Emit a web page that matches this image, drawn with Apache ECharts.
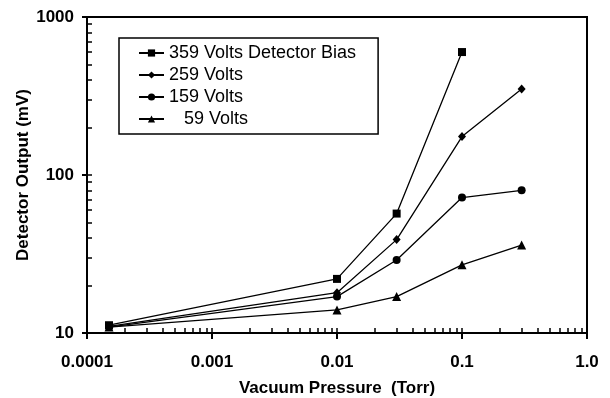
<!DOCTYPE html>
<html>
<head>
<meta charset="utf-8">
<script src="https://cdn.jsdelivr.net/npm/echarts@6/dist/echarts.min.js"></script>
<style>
  html, body { margin: 0; padding: 0; background: #fff; }
  #chart { width: 610px; height: 398px; }
</style>
</head>
<body>
<div id="chart"></div>
<script>
var pressure = [0.00015, 0.01, 0.03, 0.1, 0.3];
var volts359 = [11.2, 22, 57, 600];
var volts259 = [11, 18, 39, 175, 350];
var volts159 = [10.9, 17, 29, 72, 80];
var volts59 = [10.9, 14, 17, 27, 36];
var seriesNames = ['359 Volts Detector Bias', '259 Volts', '159 Volts', '   59 Volts'];

var xTickLabels = ['0.0001', '0.001', '0.01', '0.1', '1.0'];
var yTickLabels = ['10', '100', '1000'];
var xMinorTicks = [0.0001, 0.0002, 0.0003, 0.0004, 0.0005, 0.0006, 0.0007, 0.0008, 0.0009,
                   0.001, 0.002, 0.003, 0.004, 0.005, 0.006, 0.007, 0.008, 0.009,
                   0.01, 0.02, 0.03, 0.04, 0.05, 0.06, 0.07, 0.08, 0.09,
                   0.1, 0.2, 0.3, 0.4, 0.5, 0.6, 0.7, 0.8, 0.9, 1];
var yMinorTicks = [10, 20, 30, 40, 50, 60, 70, 80, 90,
                   100, 200, 300, 400, 500, 600, 700, 800, 900, 1000];

function pairs(ys) {
    var out = [];
    for (var i = 0; i < ys.length; i++) {
        out.push([pressure[i], ys[i]]);
    }
    return out;
}

var font = 'Liberation Sans, Arial, sans-serif';
var chart = echarts.init(document.getElementById('chart'), null, {renderer: 'canvas'});

function lineSeries(name, ys, symbol, size) {
    return {
        name: name,
        type: 'line',
        data: pairs(ys),
        symbol: symbol,
        symbolSize: size,
        showAllSymbol: true,
        lineStyle: {color: '#000', width: 1.3},
        itemStyle: {color: '#000'},
        animation: false
    };
}

chart.setOption({
    animation: false,
    backgroundColor: '#fff',
    grid: {
        left: 87, right: 23, top: 17, bottom: 65,
        outerBoundsMode: 'none',
        show: true, borderColor: '#000', borderWidth: 2
    },
    legend: {
        orient: 'vertical',
        left: 119, top: 38,
        backgroundColor: '#fff',
        borderColor: '#000', borderWidth: 1.5,
        padding: [6, 22, 6, 19],
        itemWidth: 25, itemHeight: 9, itemGap: 4,
        textStyle: {fontSize: 18, color: '#000', fontFamily: font},
        data: seriesNames
    },
    xAxis: [
        {
            type: 'log', logBase: 10, min: 0.0001, max: 1,
            name: 'Vacuum Pressure  (Torr)',
            nameLocation: 'middle', nameGap: 47,
            nameTextStyle: {fontSize: 17, fontWeight: 'bold', color: '#000', fontFamily: font},
            axisLine: {lineStyle: {color: '#000', width: 2}},
            axisTick: {inside: false, length: 6, lineStyle: {color: '#000', width: 2}},
            axisLabel: {
                margin: 21, fontSize: 17, fontWeight: 'bold', color: '#000', fontFamily: font,
                formatter: function (v, i) { return xTickLabels[i]; }
            },
            splitLine: {show: false}
        },
        {
            type: 'log', logBase: 10, min: 0.0001, max: 1, position: 'bottom',
            axisLine: {show: false},
            axisTick: {inside: true, length: 5, customValues: xMinorTicks, lineStyle: {color: '#000', width: 1.5}},
            axisLabel: {show: false},
            splitLine: {show: false}
        }
    ],
    yAxis: [
        {
            type: 'log', logBase: 10, min: 10, max: 1000,
            name: 'Detector Output (mV)',
            nameLocation: 'middle', nameGap: 55,
            nameMoveOverlap: false,
            nameTextStyle: {fontSize: 17, fontWeight: 'bold', color: '#000', fontFamily: font},
            axisLine: {lineStyle: {color: '#000', width: 2}},
            axisTick: {inside: false, length: 5, lineStyle: {color: '#000', width: 2}},
            axisLabel: {
                margin: 13, fontSize: 17, fontWeight: 'bold', color: '#000', fontFamily: font,
                formatter: function (v, i) { return yTickLabels[i]; }
            },
            splitLine: {show: false}
        },
        {
            type: 'log', logBase: 10, min: 10, max: 1000, position: 'left',
            axisLine: {show: false},
            axisTick: {inside: true, length: 5, customValues: yMinorTicks, lineStyle: {color: '#000', width: 1.5}},
            axisLabel: {show: false},
            splitLine: {show: false}
        }
    ],
    series: [
        lineSeries(seriesNames[0], volts359, 'rect', 8),
        lineSeries(seriesNames[1], volts259, 'diamond', [8, 9]),
        lineSeries(seriesNames[2], volts159, 'circle', 8),
        lineSeries(seriesNames[3], volts59, 'triangle', 9)
    ]
});
</script>
</body>
</html>
